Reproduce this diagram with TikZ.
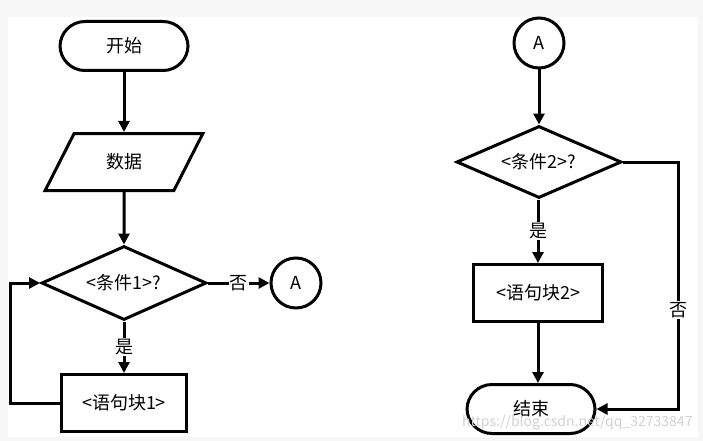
\documentclass[tikz,border=0pt]{standalone}
\usepackage{fontspec}
\setmainfont{Noto Sans CJK SC}
\usetikzlibrary{arrows.meta, shapes.geometric}

\begin{document}
\begin{tikzpicture}[
    x=1pt, y=-1pt,
    font=\fontsize{18}{20}\selectfont,
    every node/.style={line width=3pt},
    flow/.style={-{Triangle[length=11pt, width=11pt]}, line width=3pt},
    terminal/.style={draw, rounded corners=25pt, minimum width=128pt, minimum height=49pt},
    databox/.style={draw, trapezium, trapezium left angle=62, trapezium right angle=118,
        trapezium stretches=true, minimum width=158pt, minimum height=57pt},
    decision/.style={draw, diamond, shape aspect=2.2, inner sep=0pt},
    stmtbox/.style={draw, rectangle, minimum width=125pt, minimum height=57pt},
    connector/.style={draw, circle, minimum size=50pt, inner sep=0pt},
    answer/.style={fill=white, inner sep=1pt}
]

% page and frame
\fill[gray!6] (0,0) rectangle (703,441);
\fill[white] (8,17) rectangle (698,437);
\useasboundingbox (0,0) rectangle (703,441);

% left column
\node[terminal] (start) at (124,46) {开始};
\node[databox] (data) at (124,162) {数据};
\node[decision, minimum width=165pt, minimum height=74pt] (cond1) at (124,283) {<条件1>?};
\node[connector] (exitA) at (296,283) {A};
\node[stmtbox] (body1) at (124,403) {<语句块1>};
\coordinate (loop) at (10,403);

\draw[flow] (start) -- (data);
\draw[flow] (data) -- (cond1);
\draw[flow] (cond1) -- node[answer] {否} (exitA);
\draw[flow] (cond1) -- node[answer] {是} (body1);
\draw[flow] (body1.west) -- (loop) -- (loop |- cond1.west) -- (cond1.west);

% right column
\node[connector] (entryA) at (539,43) {A};
\node[decision, minimum width=165pt, minimum height=72pt] (cond2) at (539,162) {<条件2>?};
\node[stmtbox, minimum width=129pt] (body2) at (538,293) {<语句块2>};
\node[terminal] (stop) at (531,409) {结束};
\coordinate (bypass) at (678,162);

\draw[flow] (entryA) -- (cond2);
\draw[flow] (cond2.south -| body2) -- node[answer] {是} (body2);
\draw[flow] (body2) -- (body2 |- stop.north);
\draw[flow] (cond2.east) -- (bypass) -- node[answer, pos=0.6] {否} (bypass |- stop.east) -- (stop.east);

\node[gray!35, font=\fontsize{14}{16}\selectfont, anchor=east, inner sep=0pt] (mark) at (694,423) {https://blog.csdn.net/qq\_32733847};

\end{tikzpicture}
\end{document}
